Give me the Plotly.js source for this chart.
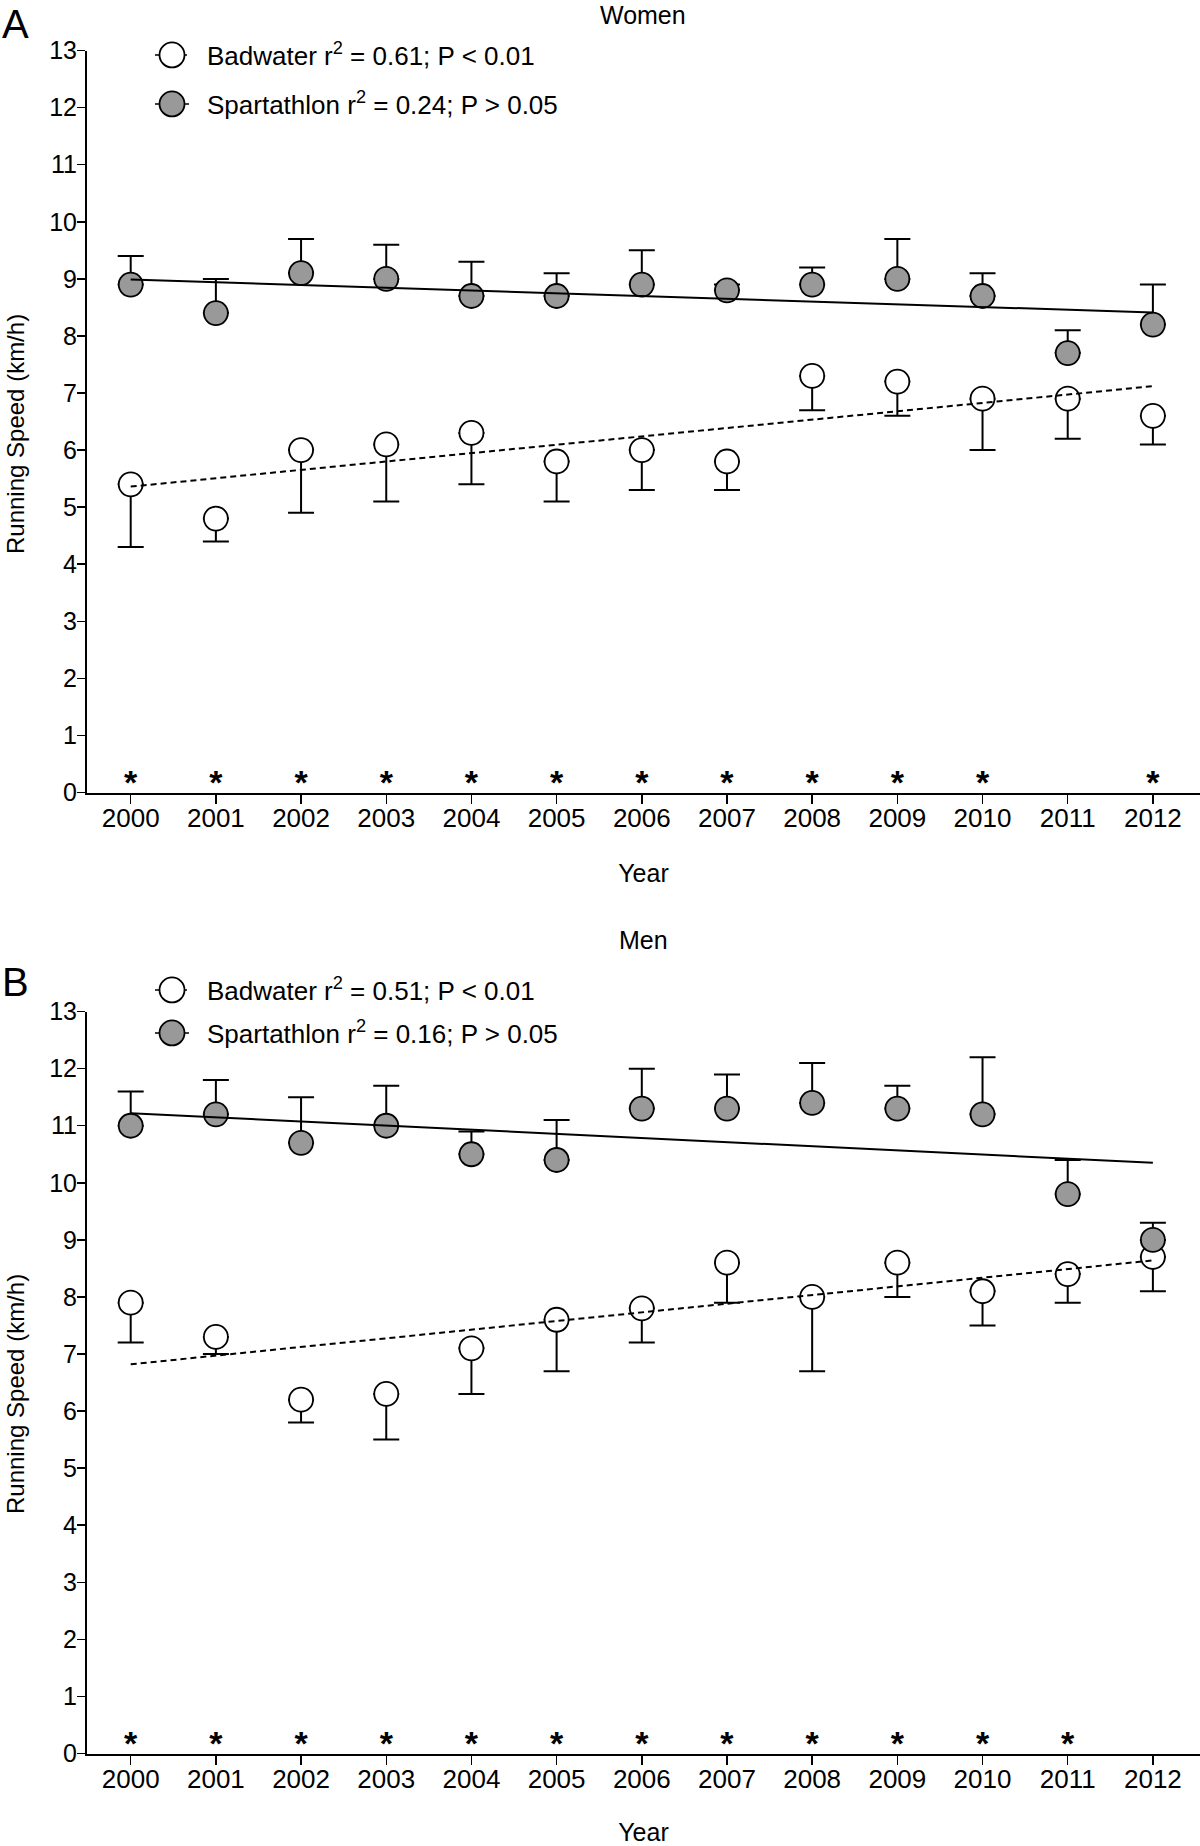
<!DOCTYPE html>
<html>
<head>
<meta charset="utf-8">
<script src="https://cdn.plot.ly/plotly-3.0.1.min.js"></script>
<style>html,body{margin:0;padding:0;background:#fff}</style>
</head>
<body>
<div id="chart" style="width:1200px;height:1846px"></div>
<script>
// ---------- data ----------
const years = [2000, 2001, 2002, 2003, 2004, 2005, 2006, 2007, 2008, 2009, 2010, 2011, 2012];
const yTicks = [0, 1, 2, 3, 4, 5, 6, 7, 8, 9, 10, 11, 12, 13];

// Women (panel A)
const womenBadwater      = [5.4, 4.8, 6.0, 6.1, 6.3, 5.8, 6.0, 5.8, 7.3, 7.2, 6.9, 6.9, 6.6];
const womenBadwaterSD    = [1.1, 0.4, 1.1, 1.0, 0.9, 0.7, 0.7, 0.5, 0.6, 0.6, 0.9, 0.7, 0.5];
const womenSpartathlon   = [8.9, 8.4, 9.1, 9.0, 8.7, 8.7, 8.9, 8.8, 8.9, 9.0, 8.7, 7.7, 8.2];
const womenSpartathlonSD = [0.5, 0.6, 0.6, 0.6, 0.6, 0.4, 0.6, 0.1, 0.3, 0.7, 0.4, 0.4, 0.7];

// Men (panel B)
const menBadwater      = [7.9, 7.3, 6.2, 6.3, 7.1, 7.6, 7.8, 8.6, 8.0, 8.6, 8.1, 8.4, 8.7];
const menBadwaterSD    = [0.7, 0.3, 0.4, 0.8, 0.8, 0.9, 0.6, 0.7, 1.3, 0.6, 0.6, 0.5, 0.6];
const menSpartathlon   = [11.0, 11.2, 10.7, 11.0, 10.5, 10.4, 11.3, 11.3, 11.4, 11.3, 11.2, 9.8, 9.0];
const menSpartathlonSD = [0.6, 0.6, 0.8, 0.7, 0.4, 0.7, 0.7, 0.6, 0.7, 0.4, 1.0, 0.6, 0.3];

// Regression lines (end points)
const trendYears            = [2000, 2012];
const womenBadwaterTrend    = [5.36, 7.12];
const womenSpartathlonTrend = [8.99, 8.41];
const menBadwaterTrend      = [6.82, 8.64];
const menSpartathlonTrend   = [11.22, 10.35];

// Significance asterisks
const womenStarYears = [2000, 2001, 2002, 2003, 2004, 2005, 2006, 2007, 2008, 2009, 2010, 2012];
const menStarYears   = [2000, 2001, 2002, 2003, 2004, 2005, 2006, 2007, 2008, 2009, 2010, 2011];
const starLevel = 0.12;

// Legend labels
const womenLegend = ['Badwater r<sup>2</sup> = 0.61; P &lt; 0.01', 'Spartathlon r<sup>2</sup> = 0.24; P &gt; 0.05'];
const menLegend   = ['Badwater r<sup>2</sup> = 0.51; P &lt; 0.01', 'Spartathlon r<sup>2</sup> = 0.16; P &gt; 0.05'];

// ---------- styles ----------
const FONT = 'Liberation Sans, Arial, Helvetica, sans-serif';
const GREY = '#999999';
const MS = 24;
const GAP = '\u2002';

function zeros(a) { return a.map(function () { return 0; }); }

function dataTrace(y, sd, fill, up, xa, ya) {
  return {
    x: years, y: y, xaxis: xa, yaxis: ya, type: 'scatter', mode: 'markers',
    showlegend: false, cliponaxis: false, hoverinfo: 'x+y',
    marker: { symbol: 'circle', size: MS, color: fill, line: { color: '#000', width: 1.8 } },
    error_y: {
      type: 'data', symmetric: false,
      array: up ? sd : zeros(sd),
      arrayminus: up ? zeros(sd) : sd,
      color: '#000', thickness: 2, width: 13
    }
  };
}

function trendTrace(y, dash, xa, ya) {
  return {
    x: trendYears, y: y, xaxis: xa, yaxis: ya, type: 'scatter', mode: 'lines',
    showlegend: false, cliponaxis: false, hoverinfo: 'skip',
    line: { color: '#000', width: 2, dash: dash }
  };
}

function legendTrace(name, fill, dash, legendId, xa, ya) {
  return {
    x: [null], y: [null], xaxis: xa, yaxis: ya, type: 'scatter', mode: 'lines+markers',
    name: GAP + name, legend: legendId, showlegend: true,
    marker: { symbol: 'circle', size: 16, color: fill, line: { color: '#000', width: 1.8 } },
    line: { color: '#000', width: 1.5, dash: dash }
  };
}

function starTrace(xs, xa, ya) {
  return {
    x: xs, y: xs.map(function () { return starLevel; }), xaxis: xa, yaxis: ya,
    type: 'scatter', mode: 'text', text: xs.map(function () { return '<b>*</b>'; }),
    textposition: 'middle center', showlegend: false, cliponaxis: false, hoverinfo: 'skip',
    textfont: { family: FONT, size: 34, color: '#000' }
  };
}

const traces = [
  dataTrace(womenBadwater, womenBadwaterSD, '#ffffff', false, 'x', 'y'),
  dataTrace(womenSpartathlon, womenSpartathlonSD, GREY, true, 'x', 'y'),
  trendTrace(womenBadwaterTrend, '6px,4px', 'x', 'y'),
  trendTrace(womenSpartathlonTrend, 'solid', 'x', 'y'),
  starTrace(womenStarYears, 'x', 'y'),
  legendTrace(womenLegend[0], '#ffffff', '4px,3px', 'legend', 'x', 'y'),
  legendTrace(womenLegend[1], GREY, 'solid', 'legend2', 'x', 'y'),

  dataTrace(menBadwater, menBadwaterSD, '#ffffff', false, 'x2', 'y2'),
  dataTrace(menSpartathlon, menSpartathlonSD, GREY, true, 'x2', 'y2'),
  trendTrace(menBadwaterTrend, '6px,4px', 'x2', 'y2'),
  trendTrace(menSpartathlonTrend, 'solid', 'x2', 'y2'),
  starTrace(menStarYears, 'x2', 'y2'),
  legendTrace(menLegend[0], '#ffffff', '4px,3px', 'legend3', 'x2', 'y2'),
  legendTrace(menLegend[1], GREY, 'solid', 'legend4', 'x2', 'y2')
];

const W = 1200, H = 1846;
function px(v) { return v / W; }
function py(v) { return 1 - v / H; }

function xAxis(anchor) {
  return {
    anchor: anchor, domain: [px(87), 1], range: [1999.487, 2012.553],
    tickmode: 'array', tickvals: years, ticktext: years.map(String),
    ticks: 'outside', ticklen: 9, tickwidth: 1.5, tickcolor: '#000',
    ticklabelstandoff: -8,
    showline: true, linewidth: 2.5, linecolor: '#000',
    showgrid: false, zeroline: false, fixedrange: true,
    tickfont: { family: FONT, size: 26, color: '#000' },
    title: { text: 'Year', font: { family: FONT, size: 25, color: '#000' }, standoff: 33 }
  };
}
function yAxis(anchor, top, bottom) {
  return {
    anchor: anchor, domain: [py(bottom), py(top)], range: [0, 13],
    tickmode: 'array', tickvals: yTicks, ticktext: yTicks.map(String),
    ticks: 'outside', ticklen: 8, tickwidth: 1.5, tickcolor: '#000',
    ticklabelstandoff: -5,
    showline: true, linewidth: 2, linecolor: '#000',
    showgrid: false, zeroline: false, fixedrange: true,
    tickfont: { family: FONT, size: 25, color: '#000' }
  };
}

function legendBox(xc, yc) {
  return {
    x: px(xc), y: py(yc), xanchor: 'left', yanchor: 'middle', xref: 'paper', yref: 'paper',
    bgcolor: 'rgba(0,0,0,0)', borderwidth: 0, itemwidth: 34,
    font: { family: FONT, size: 26, color: '#000' }
  };
}

function note(text, x, y, size, angle) {
  return {
    text: text, x: px(x), y: py(y), xref: 'paper', yref: 'paper',
    xanchor: 'center', yanchor: 'middle', showarrow: false, textangle: angle || 0,
    font: { family: FONT, size: size, color: '#000' }
  };
}

const layout = {
  width: W, height: H,
  margin: { l: 0, r: 0, t: 0, b: 0 },
  paper_bgcolor: '#ffffff', plot_bgcolor: '#ffffff',
  font: { family: FONT, color: '#000' },
  xaxis: xAxis('y'),
  yaxis: yAxis('x', 50.6, 792.5),
  xaxis2: xAxis('y2'),
  yaxis2: yAxis('x2', 1011.6, 1753.5),
  legend: legendBox(150, 55),
  legend2: legendBox(150, 104),
  legend3: legendBox(150, 990),
  legend4: legendBox(150, 1033),
  annotations: [
    note('Women', 643, 15, 25),
    note('Men', 643, 940, 25),
    note('A', 15, 24, 40),
    note('B', 15, 982, 40),
    note('Running Speed (km/h)', 15, 434, 24, -90),
    note('Running Speed (km/h)', 15, 1394, 24, -90)
  ]
};

function enlargeLegendMarkers() {
  var r = 12.5;
  var d = 'M' + r + ',0A' + r + ',' + r + ' 0 1,1 0,-' + r + 'A' + r + ',' + r + ' 0 0,1 ' + r + ',0Z';
  document.querySelectorAll('#chart .legendpoints path.scatterpts').forEach(function (p) {
    p.setAttribute('d', d);
  });
}

Plotly.newPlot('chart', traces, layout, { staticPlot: true, displayModeBar: false }).then(enlargeLegendMarkers);
</script>
</body>
</html>
